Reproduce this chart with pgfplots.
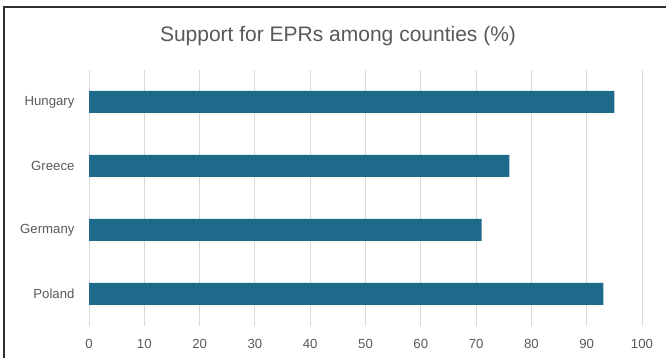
\documentclass[border=0pt]{standalone}
\usepackage{pgfplots}
\pgfplotsset{compat=1.18}
\usepackage{fontspec}
\setmainfont{Liberation Sans}
\definecolor{barblue}{HTML}{1E6A8A}
\definecolor{txtgray}{HTML}{595959}
\definecolor{gridgray}{HTML}{D9D9D9}
\definecolor{framegray}{HTML}{303030}
\begin{document}
\begin{tikzpicture}[x=1pt,y=1pt]
\useasboundingbox (0,0) rectangle (666,358);
\draw[framegray,line width=1.4pt] (4,-2) -- (4,351) -- (668,351);
\node[txtgray,font=\fontsize{21}{24}\selectfont] at (338,322) {Support for EPRs among counties (\%)};
\begin{axis}[
  anchor=south west, at={(89pt,32pt)},
  scale only axis, width=553pt, height=256pt,
  xbar, bar width=22pt,
  xmin=0, xmax=100, ymin=-0.5, ymax=3.5,
  xtick={0,10,...,100},
  ytick={0,1,2,3},
  yticklabels={Poland,Germany,Greece,Hungary},
  axis line style={draw=none},
  major tick length=0pt,
  xmajorgrids, major grid style={gridgray,line width=0.9pt},
  tick label style={txtgray,font=\fontsize{13.2}{15}\selectfont},
  /pgf/number format/assume math mode=true,
  x tick label style={yshift=-10pt},
  y tick label style={xshift=-11pt},
]
\addplot[fill=barblue,draw=none] coordinates {(93,0) (71,1) (76,2) (95,3)};
\end{axis}
\end{tikzpicture}
\end{document}
